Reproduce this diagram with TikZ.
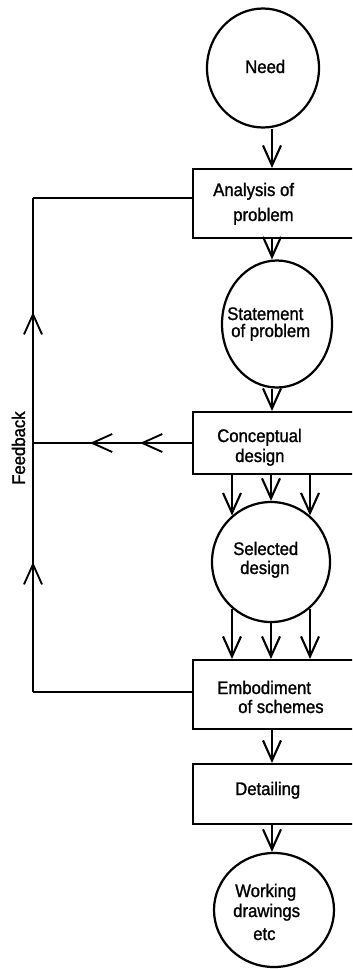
\documentclass[tikz,border=0pt]{standalone}
\usepackage{fontspec}
\setmainfont{Liberation Sans}[FakeStretch=0.92,FakeBold=1.3]
\usetikzlibrary{arrows.meta,shapes.geometric,decorations.markings}
\newcommand\pxu{0.03cm}
\begin{document}
\begin{tikzpicture}[x=0.03cm,y=-0.03cm,
  >={Straight Barb[length=0.6cm,width=0.54cm]},
  every node/.style={inner sep=0pt},
  stage/.style={draw, line width=2.1pt, rectangle, anchor=north west, minimum width=240*\pxu},
  blob/.style={draw, line width=1.9pt, ellipse},
  lbl/.style={anchor=base west, font=\fontsize{15.5}{18}\selectfont},
  flow/.style={line width=1.8pt, ->},
  fb/.style={line width=1.6pt},
  upmarks/.style={postaction={decorate}, decoration={markings,
      mark=at position 0.263 with {\arrow{>}},
      mark=at position 0.769 with {\arrow{>}}}},
  leftmarks/.style={postaction={decorate}, decoration={markings,
      mark=at position 0.327 with {\arrow{>}},
      mark=at position 0.642 with {\arrow{>}}}},
]
\useasboundingbox (0,0) rectangle (352,969);
\clip (0,0) rectangle (352,969);

% stages of the design process
\node[blob, minimum width=112*\pxu, minimum height=119*\pxu] (need) at (263,68) {};
\node[stage, minimum height=69*\pxu] (ana) at (192,168) {};
\node[blob, minimum width=110*\pxu, minimum height=127*\pxu] (stm) at (277,324) {};
\node[stage, minimum height=62*\pxu] (con) at (192,411) {};
\node[blob, minimum width=118*\pxu, minimum height=120*\pxu] (sel) at (271,562) {};
\node[stage, minimum height=69*\pxu] (emb) at (192,659) {};
\node[stage, minimum height=60*\pxu] (det) at (192,763) {};
\node[blob, minimum width=120*\pxu, minimum height=114*\pxu] (wrk) at (274,910) {};

% labels
\node[lbl] (needT) at (245,73) {Need};
\node[lbl] (anaT1) at (213,196) {Analysis of};
\node[lbl] (anaT2) at (233,221) {problem};
\node[lbl] (stmT1) at (227,320) {Statement};
\node[lbl] (stmT2) at (231,337) {of problem};
\node[lbl] (conT1) at (217,442) {Conceptual};
\node[lbl] (conT2) at (235,462) {design};
\node[lbl] (selT1) at (233,555) {Selected};
\node[lbl] (selT2) at (240,574) {design};
\node[lbl] (embT1) at (217,694) {Embodiment};
\node[lbl] (embT2) at (238,713) {of schemes};
\node[lbl] (detT) at (235,795) {Detailing};
\node[lbl] (wrkT1) at (235,897) {Working};
\node[lbl] (wrkT2) at (233,917) {drawings};
\node[lbl] (wrkT3) at (253,940) {etc};
\node[lbl, rotate=90] (fbT) at (25,485) {Feedback};

% main flow
\coordinate (spine) at (272,0);
\draw[flow] (need.south -| spine) -- (ana.north -| spine);
\draw[flow] (ana.south -| spine) -- (stm.north -| spine);
\draw[flow] (stm.south -| spine) -- (con.north -| spine);
\draw[flow] (con.south -| sel.130) -- (sel.130);
\draw[flow] (con.south -| sel.north) -- (sel.north);
\draw[flow] (con.south -| sel.50) -- (sel.50);
\draw[flow] (sel.230) -- (sel.230 |- emb.north);
\draw[flow] (sel.south) -- (sel.south |- emb.north);
\draw[flow] (sel.310) -- (sel.310 |- emb.north);
\draw[flow] (emb.south -| spine) -- (det.north -| spine);
\draw[flow] (det.south -| spine) -- (wrk.north -| spine);

% feedback loop
\coordinate (fbTop) at (33,198);
\coordinate (fbMid) at (33,443);
\coordinate (fbBot) at (33,692);
\draw[fb] (fbTop -| ana.west) -- (fbTop);
\draw[fb, upmarks] (fbBot) -- (fbTop);
\draw[fb, leftmarks] (fbMid -| con.west) -- (fbMid);
\draw[fb] (fbBot -| emb.west) -- (fbBot);
\end{tikzpicture}
\end{document}
